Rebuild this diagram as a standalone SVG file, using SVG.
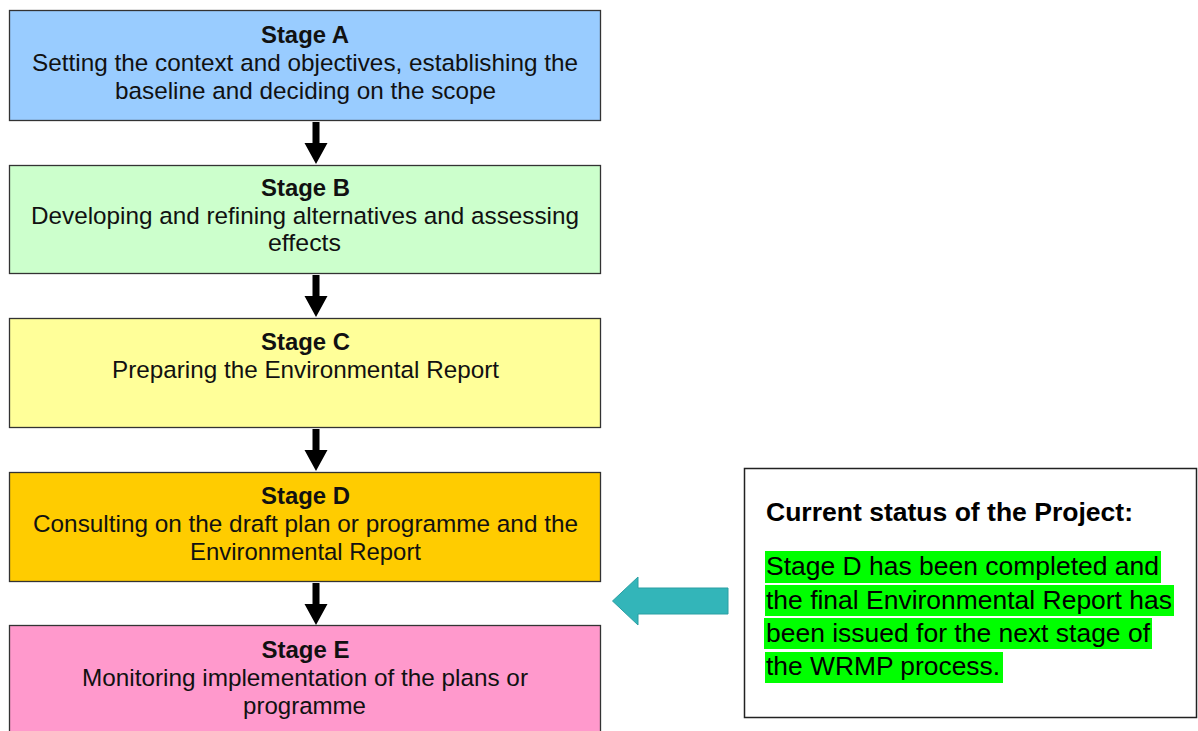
<svg xmlns="http://www.w3.org/2000/svg" width="1198" height="731" viewBox="0 0 1198 731">
<style>
.box{stroke:#333;stroke-width:1.3}
.t{font-family:"Liberation Sans",Arial,sans-serif;font-size:24.5px;fill:#111;text-anchor:middle}
.tb{font-weight:bold}
.s{font-family:"Liberation Sans",Arial,sans-serif;font-size:26px;fill:#000}
.hl{fill:#00ff00}
</style>
<defs>
<path id="arr" d="M-3.5,0 H3.5 V21 H11.5 L0,42 L-11.5,21 H-3.5 Z" fill="#000"/>
</defs>
<rect width="1198" height="731" fill="#fff"/>
<g id="connectors">
<use href="#arr" transform="translate(316,122)"/>
<use href="#arr" transform="translate(316,275)"/>
<use href="#arr" transform="translate(316,429)"/>
<use href="#arr" transform="translate(316,583)"/>
</g>
<g id="stageA">
<rect class="box" x="9.5" y="10.5" width="591" height="110" fill="#99ccff"/>
<text class="t tb" x="305" y="43" textLength="88" lengthAdjust="spacingAndGlyphs">Stage A</text>
<text class="t" x="305" y="71" textLength="546" lengthAdjust="spacingAndGlyphs">Setting the context and objectives, establishing the</text>
<text class="t" x="305.5" y="99" textLength="381" lengthAdjust="spacingAndGlyphs">baseline and deciding on the scope</text>
</g>
<g id="stageB">
<rect class="box" x="9.5" y="165.5" width="591" height="108" fill="#ccffcc"/>
<text class="t tb" x="305.5" y="196" textLength="89" lengthAdjust="spacingAndGlyphs">Stage B</text>
<text class="t" x="305" y="224" textLength="548" lengthAdjust="spacingAndGlyphs">Developing and refining alternatives and assessing</text>
<text class="t" x="304.5" y="251" textLength="73" lengthAdjust="spacingAndGlyphs">effects</text>
</g>
<g id="stageC">
<rect class="box" x="9.5" y="318.5" width="591" height="109" fill="#ffff99"/>
<text class="t tb" x="305.5" y="350" textLength="89" lengthAdjust="spacingAndGlyphs">Stage C</text>
<text class="t" x="305.5" y="378" textLength="387" lengthAdjust="spacingAndGlyphs">Preparing the Environmental Report</text>
</g>
<g id="stageD">
<rect class="box" x="9.5" y="472.5" width="591" height="109" fill="#ffcc00"/>
<text class="t tb" x="305.5" y="504" textLength="89" lengthAdjust="spacingAndGlyphs">Stage D</text>
<text class="t" x="305.5" y="532" textLength="545" lengthAdjust="spacingAndGlyphs">Consulting on the draft plan or programme and the</text>
<text class="t" x="305.5" y="560" textLength="231" lengthAdjust="spacingAndGlyphs">Environmental Report</text>
</g>
<g id="stageE">
<rect class="box" x="9.5" y="625.5" width="591" height="120" fill="#ff99cc"/>
<text class="t tb" x="305.5" y="658" textLength="88" lengthAdjust="spacingAndGlyphs">Stage E</text>
<text class="t" x="305" y="686" textLength="446" lengthAdjust="spacingAndGlyphs">Monitoring implementation of the plans or</text>
<text class="t" x="304.5" y="714" textLength="123" lengthAdjust="spacingAndGlyphs">programme</text>
</g>
<g id="pointer">
<path d="M612.5,601 L638,577 V588 H728 V614 H638 V625 Z" fill="#33b5b9" stroke="#2a9fa3" stroke-width="1"/>
</g>
<g id="status">
<rect x="744.5" y="468.5" width="452" height="249" fill="#fff" stroke="#222" stroke-width="1.5"/>
<text class="s" x="766" y="521" font-weight="bold" font-size="25" textLength="367" lengthAdjust="spacingAndGlyphs">Current status of the Project:</text>
<rect class="hl" x="765" y="551" width="396" height="32"/>
<rect class="hl" x="765" y="585" width="409" height="31"/>
<rect class="hl" x="764" y="618" width="388" height="31"/>
<rect class="hl" x="765" y="652" width="238" height="31"/>
<text class="s" x="766" y="575" textLength="393" lengthAdjust="spacingAndGlyphs">Stage D has been completed and</text>
<text class="s" x="766" y="609" textLength="406" lengthAdjust="spacingAndGlyphs">the final Environmental Report has</text>
<text class="s" x="766" y="642" textLength="384" lengthAdjust="spacingAndGlyphs">been issued for the next stage of</text>
<text class="s" x="766" y="675" textLength="234" lengthAdjust="spacingAndGlyphs">the WRMP process.</text>
</g>
</svg>
